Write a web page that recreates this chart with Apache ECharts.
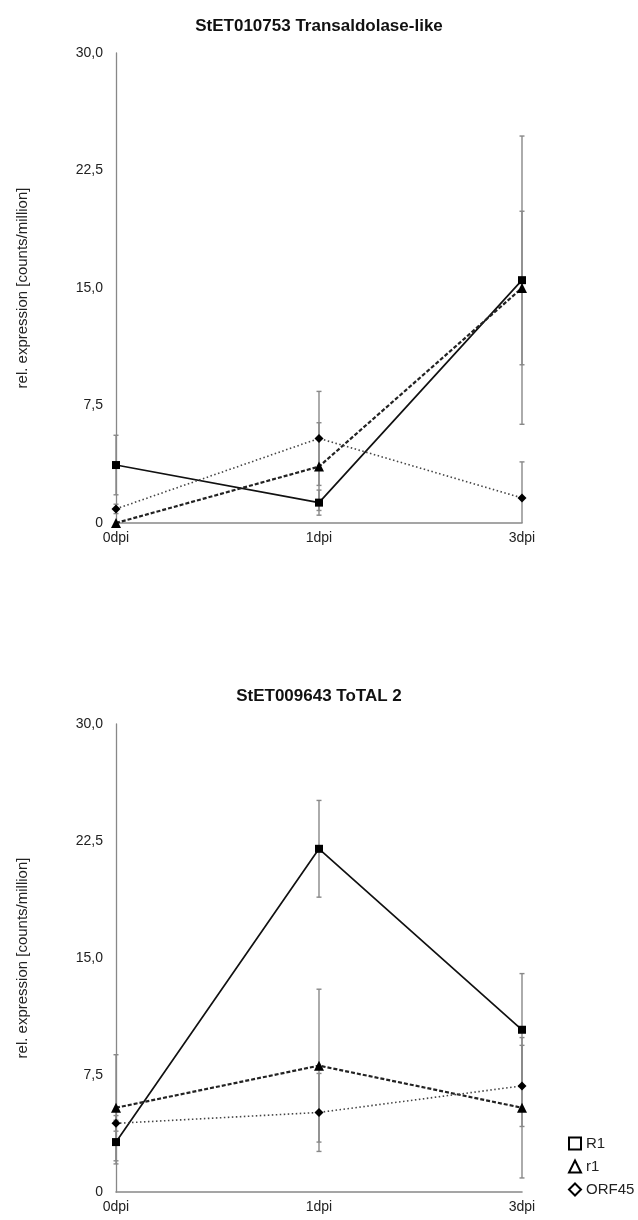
<!DOCTYPE html>
<html>
<head>
<meta charset="utf-8">
<script src="https://cdn.jsdelivr.net/npm/echarts@6/dist/echarts.min.js"></script>
<style>
html,body{margin:0;padding:0;background:#fff;}
#chart{width:638px;height:1220px;}
</style>
</head>
<body>
<div id="chart"></div>
<script>
const categories = ['0dpi', '1dpi', '3dpi'];
const yTickLabels = ['0', '7,5', '15,0', '22,5', '30,0'];
const titles = ['StET010753 Transaldolase-like', 'StET009643 ToTAL 2'];
const yName = 'rel. expression [counts/million]';
const seriesNames = ['R1', 'r1', 'ORF45'];

// Chart 1: StET010753 Transaldolase-like
const top_R1 = [3.7, 1.3, 15.5];
const top_R1_err = [1.9, 0.8, 9.2];
const top_r1 = [0.0, 3.6, 15.0];
const top_r1_err = [0.0, 2.8, 4.9];
const top_ORF45 = [0.9, 5.4, 1.6];
const top_ORF45_err = [0.3, 3.0, 2.3];

// Chart 2: StET009643 ToTAL 2
const bot_R1 = [3.2, 22.0, 10.4];
const bot_R1_err = [1.4, 3.1, 3.6];
const bot_r1 = [5.4, 8.1, 5.4];
const bot_r1_err = [3.4, 4.9, 4.5];
const bot_ORF45 = [4.4, 5.1, 6.8];
const bot_ORF45_err = [0.5, 2.5, 2.6];

const FONT = 'Liberation Sans, Arial, Helvetica, sans-serif';

const styles = {
  R1: { symbol: 'rect', symbolSize: 8, lineStyle: { color: '#111', width: 1.7, type: 'solid' } },
  r1: { symbol: 'triangle', symbolSize: 10, lineStyle: { color: '#222', width: 2.2, type: [4, 2] } },
  ORF45: { symbol: 'diamond', symbolSize: 9, lineStyle: { color: '#444', width: 1.6, type: [1.5, 2.5] } }
};

function errData(vals, errs) {
  return vals.map((v, i) => [i, v, errs[i]]);
}

function renderErr(params, api) {
  const x = api.value(0), v = api.value(1), e = api.value(2);
  if (!e) return;
  const lo = Math.max(v - e, 0);
  const hi = v + e;
  const pTop = api.coord([x, hi]);
  const pBot = api.coord([x, lo]);
  const style = { stroke: '#888', lineWidth: 1.4 };
  const children = [
    { type: 'line', shape: { x1: pTop[0], y1: pTop[1], x2: pBot[0], y2: pBot[1] }, style: style },
    { type: 'line', shape: { x1: pTop[0] - 2.5, y1: pTop[1], x2: pTop[0] + 2.5, y2: pTop[1] }, style: style }
  ];
  if (v - e > 0) {
    children.push({ type: 'line', shape: { x1: pBot[0] - 2.5, y1: pBot[1], x2: pBot[0] + 2.5, y2: pBot[1] }, style: style });
  }
  return { type: 'group', children: children };
}

function makeGridSeries(idx, data) {
  const out = [];
  seriesNames.forEach((name, k) => {
    out.push({
      type: 'custom', name: name + ' err', xAxisIndex: idx, yAxisIndex: idx,
      renderItem: renderErr, data: errData(data[k][0], data[k][1]), z: 1, silent: true
    });
  });
  seriesNames.forEach((name, k) => {
    const s = styles[name];
    out.push({
      type: 'line', name: name, xAxisIndex: idx, yAxisIndex: idx,
      data: data[k][0], symbol: s.symbol, symbolSize: s.symbolSize,
      itemStyle: { color: '#000' }, lineStyle: s.lineStyle, z: 3, animation: false
    });
  });
  return out;
}

const grids = [
  { left: 116, right: 116, top: 53, height: 470 },
  { left: 116, right: 116, top: 724, height: 468 }
];

function xAxis(i) {
  return {
    type: 'category', gridIndex: i, data: categories, boundaryGap: false,
    axisLine: { lineStyle: { color: '#888', width: 1.6 } },
    axisTick: { show: false },
    axisLabel: { color: '#222', fontSize: 14, fontFamily: FONT, margin: 8 },
    splitLine: { show: false }
  };
}
function yAxis(i) {
  return {
    type: 'value', gridIndex: i, min: 0, max: 30, interval: 7.5,
    name: yName, nameLocation: 'middle', nameGap: 86, nameRotate: 90,
    nameTextStyle: { color: '#222', fontSize: 15, fontFamily: FONT },
    axisLine: { show: true, lineStyle: { color: '#888', width: 1.3 } },
    axisTick: { show: false },
    axisLabel: { color: '#222', fontSize: 14, fontFamily: FONT, margin: 13,
      formatter: v => yTickLabels[Math.round(v / 7.5)] },
    splitLine: { show: false }
  };
}

const chart = echarts.init(document.getElementById('chart'), null, { renderer: 'canvas' });
chart.setOption({
  backgroundColor: '#fff',
  animation: false,
  title: [
    { text: titles[0], left: 'center', top: 13, textStyle: { fontSize: 17, fontWeight: 'bold', color: '#111', fontFamily: FONT } },
    { text: titles[1], left: 'center', top: 683, textStyle: { fontSize: 17, fontWeight: 'bold', color: '#111', fontFamily: FONT } }
  ],
  legend: {
    orient: 'vertical', left: 563, top: 1131, itemWidth: 12, itemHeight: 12, itemGap: 8,
    textStyle: { color: '#222', fontSize: 15, fontFamily: FONT },
    data: [
      { name: 'R1', icon: 'rect', itemStyle: { color: '#fff', borderColor: '#000', borderWidth: 2 } },
      { name: 'r1', icon: 'triangle', itemStyle: { color: '#fff', borderColor: '#000', borderWidth: 2 } },
      { name: 'ORF45', icon: 'diamond', itemStyle: { color: '#fff', borderColor: '#000', borderWidth: 2 } }
    ]
  },
  grid: grids,
  xAxis: [xAxis(0), xAxis(1)],
  yAxis: [yAxis(0), yAxis(1)],
  series: [].concat(
    makeGridSeries(0, [[top_R1, top_R1_err], [top_r1, top_r1_err], [top_ORF45, top_ORF45_err]]),
    makeGridSeries(1, [[bot_R1, bot_R1_err], [bot_r1, bot_r1_err], [bot_ORF45, bot_ORF45_err]])
  )
});
</script>
</body>
</html>
